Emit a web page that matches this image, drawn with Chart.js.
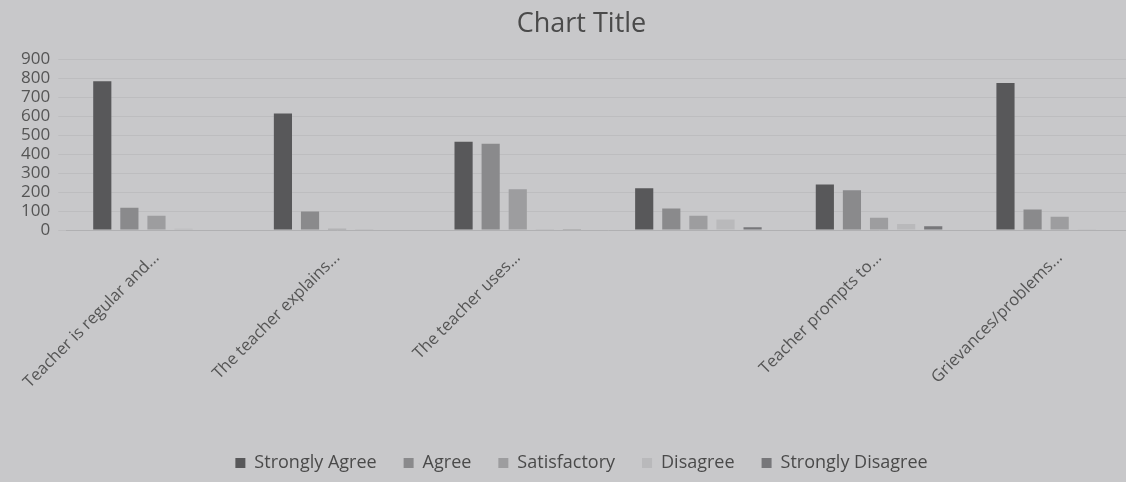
<!DOCTYPE html>
<html>
<head>
<meta charset="utf-8">
<script src="https://cdn.jsdelivr.net/npm/chart.js@4/dist/chart.umd.min.js"></script>
<style>
html,body{margin:0;padding:0;overflow:hidden;background:#c8c8ca;}
#wrap{width:1150px;height:482px;position:relative;}
</style>
</head>
<body>
<div id="wrap"><canvas id="c"></canvas></div>
<script>
const categories = ["Teacher is regular and...", "The teacher explains...", "The teacher uses...", "", "Teacher prompts to...", "Grievances/problems..."];
const stronglyAgree = [785, 615, 465, 220, 240, 775];
const agree = [118, 97, 455, 113, 210, 108];
const satisfactory = [75, 6, 215, 75, 65, 70];
const disagree = [6, 5, 5, 55, 32, 4];
const stronglyDisagree = [3, 0, 4, 15, 20, 2];
const yTicks = [0, 100, 200, 300, 400, 500, 600, 700, 800, 900];

const seriesNames = ["Strongly Agree", "Agree", "Satisfactory", "Disagree", "Strongly Disagree"];
const seriesData = [stronglyAgree, agree, satisfactory, disagree, stronglyDisagree];
const seriesColors = ["#58585a", "#8a8a8c", "#9d9d9f", "#b9b9bb", "#77777a"];

new Chart(document.getElementById('c'), {
  type: 'bar',
  data: {
    labels: categories,
    datasets: seriesNames.map((n, i) => ({
      label: n,
      data: seriesData[i],
      backgroundColor: seriesColors[i],
      categoryPercentage: 0.75,
      barPercentage: 0.67
    }))
  },
  options: {
    responsive: true,
    maintainAspectRatio: false,
    animation: false,
    layout: { padding: { left: 13, right: 0, top: 3, bottom: 0 } },
    plugins: {
      title: {
        display: true,
        text: 'Chart Title',
        color: '#4a4a4a',
        font: { family: 'Open Sans', size: 27, weight: 'normal' },
        padding: { top: 5, bottom: 19 }
      },
      legend: {
        position: 'bottom',
        labels: {
          color: '#4a4a4a',
          font: { family: 'Open Sans', size: 18 },
          boxWidth: 10, boxHeight: 10, padding: 27
        }
      },
      tooltip: { enabled: false }
    },
    scales: {
      x: {
        grid: { display: false },
        border: { color: '#b0b0b2' },
        afterFit: (s) => { s.height = 197; },
        ticks: {
          color: '#555',
          font: { family: 'Open Sans', size: 16.5 },
          maxRotation: 45, minRotation: 45,
          autoSkip: false,
          padding: 10
        }
      },
      y: {
        min: 0, max: 900,
        afterBuildTicks: (axis) => { axis.ticks = yTicks.map(v => ({ value: v })); },
        grid: { color: 'rgba(0,0,0,0.05)' },
        border: { display: false },
        ticks: {
          color: '#555',
          font: { family: 'Open Sans', size: 17 },
          padding: 8,
          autoSkip: false
        }
      }
    }
  }
});
</script>
</body>
</html>
